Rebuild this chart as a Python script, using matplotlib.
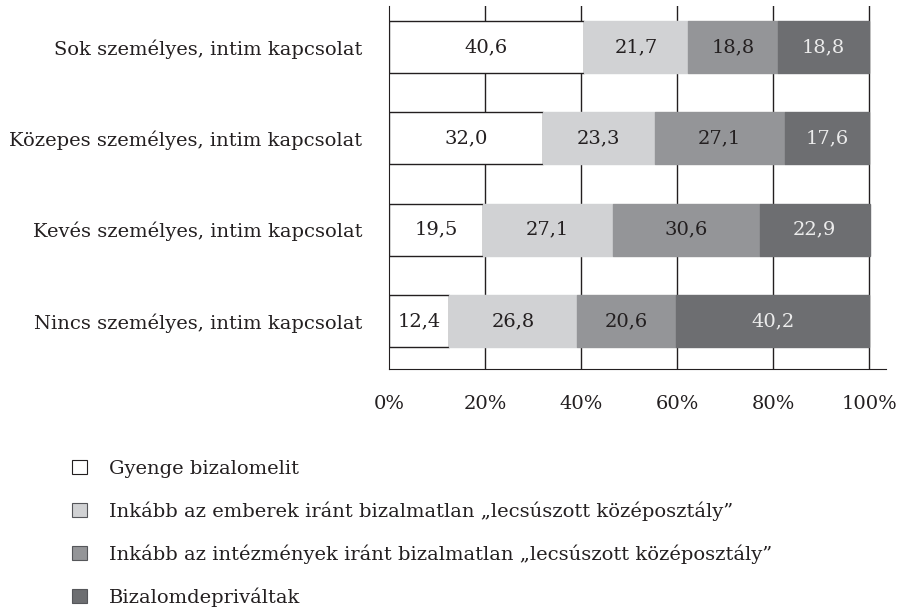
import matplotlib.pyplot as plt
from matplotlib.patches import Patch
import numpy as np

plt.rcParams['font.family'] = ['DejaVu Serif']

categories = ["Sok személyes, intim kapcsolat",
              "Közepes személyes, intim kapcsolat",
              "Kevés személyes, intim kapcsolat",
              "Nincs személyes, intim kapcsolat"]
series_names = ["Gyenge bizalomelit",
                "Inkább az emberek iránt bizalmatlan \u201elecsúszott középosztály\u201d",
                "Inkább az intézmények iránt bizalmatlan \u201elecsúszott középosztály\u201d",
                "Bizalomdepriváltak"]
gyenge = [40.6, 32.0, 19.5, 12.4]
emberek = [21.7, 23.3, 27.1, 26.8]
intezmenyek = [18.8, 27.1, 30.6, 20.6]
depriv = [18.8, 17.6, 22.9, 40.2]
xticks = [0, 20, 40, 60, 80, 100]

colors = ["#ffffff", "#d1d2d4", "#949598", "#6d6e71"]
text_colors = ["#231f20", "#231f20", "#231f20", "#ececec"]
ink = "#231f20"
fs = 14

fig = plt.figure(figsize=(8.99, 6.10), dpi=100)
ax = fig.add_axes([389 / 899, 1 - 369 / 610, (886 - 389) / 899, (369 - 6) / 610])

y = np.arange(len(categories))
left = np.zeros(len(categories))
for vals, col, tc in zip([gyenge, emberek, intezmenyek, depriv], colors, text_colors):
    vals = np.array(vals)
    ec = ink if col == "#ffffff" else col
    ax.barh(y, vals, left=left, height=0.57, color=col, edgecolor=ec,
            linewidth=1.0, zorder=3)
    for yi, (l, v) in enumerate(zip(left, vals)):
        ax.text(l + v / 2, yi, f"{v:.1f}".replace(".", ","), ha="center",
                va="center", fontsize=fs, color=tc, zorder=4)
    left += vals

ax.set_ylim(3.526, -0.449)
ax.set_xlim(0, 103.5)
ax.set_yticks(y)
ax.set_yticklabels(categories, fontsize=fs, color=ink)
ax.set_xticks(xticks)
ax.set_xticklabels([f"{t}%" for t in xticks], fontsize=fs, color=ink)
ax.tick_params(length=0)
ax.tick_params(axis="x", pad=19)
ax.tick_params(axis="y", pad=19)
for t in xticks[1:]:
    ax.axvline(t, color=ink, linewidth=1.0, zorder=1)
for s in ["top", "right"]:
    ax.spines[s].set_visible(False)
ax.spines["left"].set_color(ink)
ax.spines["bottom"].set_color(ink)

handles = [Patch(facecolor=c, edgecolor=ink if c == "#ffffff" else "#55565a",
                 linewidth=0.8) for c in colors]
fig.legend(handles, series_names, loc="upper left",
           bbox_to_anchor=(72 / 899, 1 - 460 / 610), frameon=False,
           borderpad=0, borderaxespad=0,
           fontsize=fs, handlelength=0.77, handleheight=0.77,
           labelspacing=1.2, handletextpad=1.13, labelcolor=ink)

fig.savefig("out.png", dpi=100)
